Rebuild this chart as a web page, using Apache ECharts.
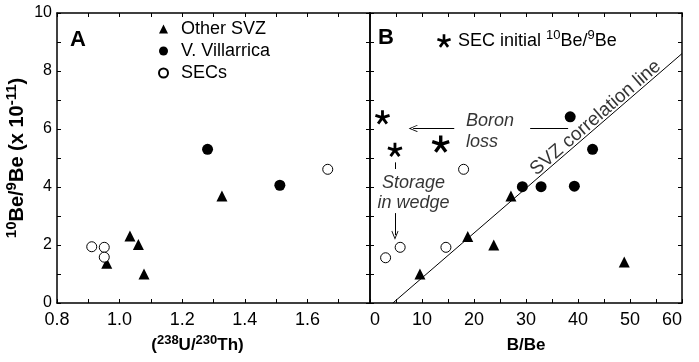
<!DOCTYPE html>
<html><head><meta charset="utf-8">
<script src="https://cdn.jsdelivr.net/npm/echarts@6/dist/echarts.min.js"></script>
<style>html,body{margin:0;padding:0;background:#fff}#c{width:699px;height:362px}</style>
</head><body><div id="c"></div><script>
// ---- data (panel A: x = (238U/230Th), y = 10Be/9Be x1e-11) ----
const otherSVZ_A = [[1.033,2.31],[1.060,2.02],[0.959,1.37],[1.078,1.00],[1.327,3.69]];
const villarrica_A = [[1.281,5.30],[1.512,4.06]];
const secs_A = [[0.911,1.94],[0.951,1.92],[0.951,1.58],[1.665,4.61]];
// ---- data (panel B: x = B/Be) ----
const otherSVZ_B = [[9.6,1.00],[18.8,2.29],[23.8,2.00],[27.1,3.69],[48.9,1.41]];
const villarrica_B = [[38.5,6.42],[42.8,5.30],[29.3,4.01],[32.9,4.01],[39.3,4.03]];
const secs_B = [[3.0,1.56],[5.8,1.92],[14.6,1.92],[18.0,4.61]];
const secInitial_B = [[2.4,6.40],[4.8,5.28],[13.6,5.48]];
const svzLine = [[4.4,0],[60,8.6]];
// annotation anchors (data coords, panel B)
const boronArrow = [[16.2,6.02],[8.3,6.02]];
const boronBar = [[38.1,6.02],[30.8,6.02]];
const storageArrow = [[4.8,3.10],[4.8,2.34]];
const storageDash = [[4.8,4.85],[4.8,4.62]];
const boronText = [18.46,5.91];
const storageText = [8.37,3.81];
const svzText = [43.4,6.38];
// ticks
const yTicks = {min:0,max:10,interval:2};
const xTicksA = {min:0.8,max:1.8,interval:0.2};
const xTicksB = {min:0,max:60,interval:10};

const FONT = 'Liberation Sans, Arial, sans-serif';
const chevron = 'path://M0,10 L5,0 L10,10 L9,10.6 L5,2.4 L1,10.6 Z';
function starPath(){
  let s=''; const L=10,w=1.9;
  for(let k=0;k<5;k++){
    const a=(-90+72*k)*Math.PI/180, dx=Math.cos(a), dy=Math.sin(a), nx=-dy, ny=dx;
    const p=[[nx*w,ny*w],[nx*w+dx*L,ny*w+dy*L],[-nx*w+dx*L,-ny*w+dy*L],[-nx*w,-ny*w]];
    s+='M'+p.map(q=>q[0].toFixed(3)+','+q[1].toFixed(3)).join(' L')+' Z ';
  }
  return 'path://'+s;
}
const STAR = starPath();

const line = {lineStyle:{color:'#000',width:1.5}};
const tick = {show:true,inside:true,length:4,lineStyle:{color:'#000',width:1}};
const minor = {show:true,splitNumber:2,length:4,lineStyle:{color:'#000',width:1}};
function xAx(grid,pos,t,labels,extra){
  return Object.assign({type:'value',gridIndex:grid,position:pos,min:t.min,max:t.max,interval:t.interval,
    axisLine:Object.assign({show:true,onZero:false},line),axisTick:tick,minorTick:minor,splitLine:{show:false},
    axisLabel:labels?{show:true,color:'#000',fontSize:18,fontFamily:FONT,margin:8}:{show:false}},extra||{});
}
function yAx(grid,pos,labels,extra){
  return Object.assign({type:'value',gridIndex:grid,position:pos,min:yTicks.min,max:yTicks.max,interval:yTicks.interval,
    axisLine:Object.assign({show:true,onZero:false},line),axisTick:tick,minorTick:minor,splitLine:{show:false},
    axisLabel:labels?{show:true,color:'#000',fontSize:16,fontFamily:FONT,margin:5}:{show:false}},extra||{});
}
const supBold = {fontSize:13,fontWeight:'bold',fontFamily:FONT,verticalAlign:'top',lineHeight:12,color:'#000'};
const supReg = {fontSize:13,fontFamily:FONT,verticalAlign:'top',lineHeight:12,color:'#000'};
const solid = {color:'#000',opacity:1};
const open = {color:'#fff',borderColor:'#000',borderWidth:1,opacity:1};

const chart = echarts.init(document.getElementById('c'),null,{renderer:'canvas'});
chart.setOption({
  animation:false,
  backgroundColor:'#fff',
  grid:[{left:57,right:329,top:13,bottom:59},{left:370,right:17,top:13,bottom:59}],
  xAxis:[
    xAx(0,'bottom',xTicksA,true,{axisLabel:{show:true,color:'#000',fontSize:18,fontFamily:FONT,margin:8,showMaxLabel:false,
        formatter:v=>v.toFixed(1)},
      name:'({sup|238}U/{sup|230}Th)',nameLocation:'middle',nameGap:28,
      nameTextStyle:{color:'#000',fontSize:17,fontWeight:'bold',fontFamily:FONT,lineHeight:22,padding:[0,32,0,0],rich:{sup:supBold}}}),
    xAx(0,'top',xTicksA,false),
    xAx(1,'bottom',xTicksB,true,{axisLabel:{show:true,color:'#000',fontSize:18,fontFamily:FONT,margin:8,alignMinLabel:'left',alignMaxLabel:'right'},
      name:'B/Be',nameLocation:'middle',nameGap:28,
      nameTextStyle:{color:'#000',fontSize:17,fontWeight:'bold',fontFamily:FONT,lineHeight:22}}),
    xAx(1,'top',xTicksB,false)
  ],
  yAxis:[
    yAx(0,'left',true,{name:'{sup|10}Be/{sup|9}Be (x 10{sup|-11})',nameLocation:'middle',nameRotate:90,nameGap:19,
      nameTextStyle:{color:'#000',fontSize:20,fontWeight:'bold',fontFamily:FONT,lineHeight:26,
        rich:{sup:{fontSize:15,fontWeight:'bold',fontFamily:FONT,verticalAlign:'top',lineHeight:14,color:'#000'}}}}),
    yAx(0,'right',false),
    yAx(1,'left',false),
    yAx(1,'right',false)
  ],
  legend:[
    {data:['Other SVZ','V. Villarrica','SECs'],orient:'vertical',left:153,top:15,itemWidth:9,itemHeight:9,itemGap:4,
      selectedMode:false,textStyle:{color:'#000',fontSize:18,lineHeight:18,fontFamily:FONT,padding:[0,0,0,8]}},
    {data:['SEC initial'],left:432,top:24,itemWidth:14,itemHeight:14,selectedMode:false,
      formatter:'SEC initial {sup|10}Be/{sup|9}Be',
      textStyle:{color:'#000',fontSize:18,lineHeight:24,fontFamily:FONT,padding:[0,0,0,2],rich:{sup:supReg}}}
  ],
  graphic:[
    {type:'text',left:70,top:29,style:{text:'A',font:'bold 22px '+FONT,fill:'#000'}},
    {type:'text',left:378,top:27,style:{text:'B',font:'bold 22px '+FONT,fill:'#000'}}
  ],
  series:[
    {name:'Other SVZ',type:'scatter',xAxisIndex:0,yAxisIndex:0,data:otherSVZ_A,symbol:'triangle',symbolSize:11,itemStyle:solid},
    {name:'V. Villarrica',type:'scatter',xAxisIndex:0,yAxisIndex:0,data:villarrica_A,symbol:'circle',symbolSize:11,itemStyle:solid},
    {name:'SECs',type:'scatter',xAxisIndex:0,yAxisIndex:0,data:secs_A,symbol:'circle',symbolSize:10,itemStyle:open},
    {name:'Other SVZ',type:'scatter',xAxisIndex:2,yAxisIndex:2,data:otherSVZ_B,symbol:'triangle',symbolSize:11,itemStyle:solid},
    {name:'V. Villarrica',type:'scatter',xAxisIndex:2,yAxisIndex:2,data:villarrica_B,symbol:'circle',symbolSize:11,itemStyle:solid},
    {name:'SECs',type:'scatter',xAxisIndex:2,yAxisIndex:2,data:secs_B,symbol:'circle',symbolSize:10,itemStyle:open},
    {name:'SEC initial',type:'scatter',xAxisIndex:2,yAxisIndex:2,data:secInitial_B,symbol:STAR,symbolKeepAspect:true,
      symbolSize:(v,p)=>p.dataIndex===2?18:15,itemStyle:solid},
    {name:'SVZ correlation line',type:'line',xAxisIndex:2,yAxisIndex:2,data:svzLine,symbol:'none',silent:true,
      lineStyle:{color:'#000',width:1},
      markLine:{silent:true,animation:false,label:{show:false},lineStyle:{color:'#000',width:1,type:'solid'},symbolSize:[7,9],
        data:[
          [{coord:boronArrow[0],symbol:'none'},{coord:boronArrow[1],symbol:chevron,symbolSize:[7,9]}],
          [{coord:boronBar[0],symbol:'none'},{coord:boronBar[1],symbol:'none'}],
          [{coord:storageArrow[0],symbol:'none'},{coord:storageArrow[1],symbol:chevron,symbolSize:[7,9]}],
          [{coord:storageDash[0],symbol:'none'},{coord:storageDash[1],symbol:'none'}]
        ]}},
    {name:'annot',type:'scatter',xAxisIndex:2,yAxisIndex:2,silent:true,symbolSize:1,itemStyle:{color:'rgba(0,0,0,0)'},
      data:[
        {value:boronText,label:{show:true,position:'inside',align:'left',formatter:'Boron\nloss',fontStyle:'italic',fontSize:18,lineHeight:21,color:'#000',fontFamily:FONT}},
        {value:storageText,label:{show:true,position:'inside',align:'center',formatter:'Storage\nin wedge',fontStyle:'italic',fontSize:18,lineHeight:20,color:'#000',fontFamily:FONT}},
        {value:svzText,label:{show:true,position:'inside',align:'center',rotate:40.8,formatter:'SVZ correlation line',fontSize:19,color:'#000',fontFamily:FONT}}
      ]}
  ]
});
</script></body></html>
